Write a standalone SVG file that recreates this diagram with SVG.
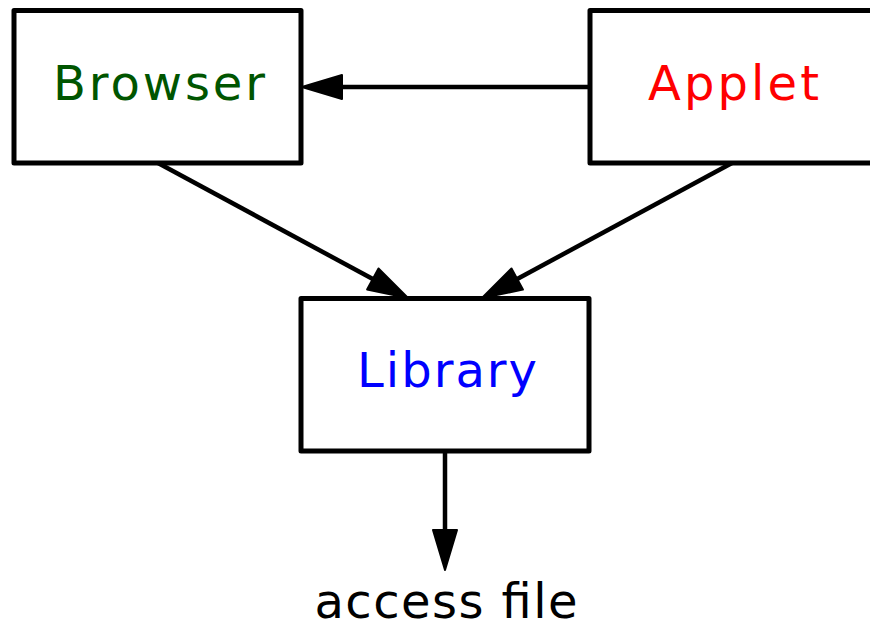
<svg xmlns="http://www.w3.org/2000/svg" width="870" height="621" viewBox="0 0 870 621">
<defs>
<style>
.box{fill:#fff;stroke:#000;stroke-width:5;stroke-linejoin:round}
.lbl{font-family:"DejaVu Sans","Liberation Sans",sans-serif;font-size:48px;text-anchor:middle}
.edge{stroke:#000;stroke-width:4.5;fill:none}
</style>
<marker id="ah" markerUnits="userSpaceOnUse" markerWidth="44" markerHeight="30" viewBox="-2 -14 44 28" refX="0" refY="0" orient="auto">
<path d="M0,-12 L40,0 L0,12 Z" fill="#000" stroke="#000" stroke-width="2" stroke-linejoin="round"/>
</marker>
</defs>
<rect width="870" height="621" fill="#fff"/>
<g id="connectors">
<line class="edge" x1="590" y1="87" x2="342" y2="87" marker-end="url(#ah)"/>
<line class="edge" x1="158" y1="163" x2="372.8" y2="279" marker-end="url(#ah)"/>
<line class="edge" x1="732" y1="163" x2="517.2" y2="279" marker-end="url(#ah)"/>
<line class="edge" x1="445" y1="451" x2="445" y2="530" marker-end="url(#ah)"/>
</g>
<g id="browser">
<rect class="box" x="14" y="10.5" width="287" height="152.5"/>
<text class="lbl" x="159" y="100" fill="#005500" textLength="212" lengthAdjust="spacing">Browser</text>
</g>
<g id="applet">
<rect class="box" x="590" y="10.5" width="290" height="152.5"/>
<text class="lbl" x="733.5" y="100" fill="#ff0000" textLength="171" lengthAdjust="spacing">Applet</text>
</g>
<g id="library">
<rect class="box" x="301" y="298.5" width="288" height="152.5"/>
<text class="lbl" x="447" y="387" fill="#0000ff" textLength="180" lengthAdjust="spacing">Library</text>
</g>
<g id="access">
<text class="lbl" x="446" y="618" fill="#000" textLength="263" lengthAdjust="spacing">access file</text>
</g>
</svg>
